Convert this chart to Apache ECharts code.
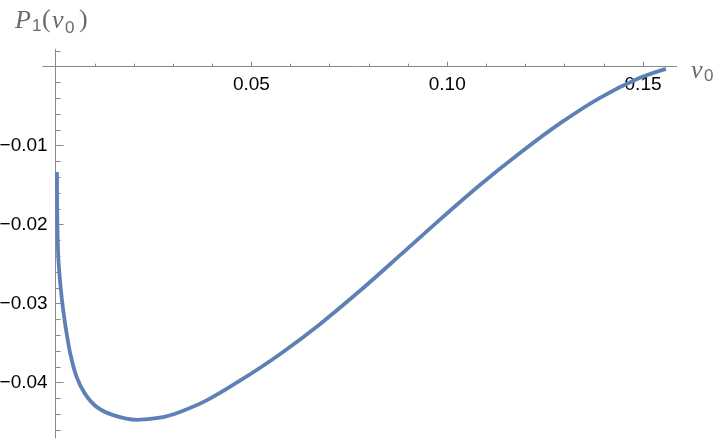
<!DOCTYPE html>
<html>
<head>
<meta charset="utf-8">
<script src="https://cdn.jsdelivr.net/npm/echarts@6/dist/echarts.min.js"></script>
<style>
html,body{margin:0;padding:0;background:#fff;}
#chart{width:720px;height:442px;}
</style>
</head>
<body>
<div id="chart"></div>
<script>
// ---- data ----
const vValues = [0.00033, 0.00041, 0.00054, 0.00072, 0.00135, 0.00194, 0.00281, 0.00383, 0.00536, 0.00747,
  0.01047, 0.01471, 0.02068, 0.02663, 0.03174, 0.03856, 0.04706, 0.05728, 0.06749, 0.07771,
  0.08792, 0.09814, 0.10835, 0.11857, 0.12878, 0.13899, 0.14921, 0.15585];
const pValues = [-0.01332, -0.01880, -0.02196, -0.02449, -0.02829, -0.03082, -0.03377, -0.03652, -0.03927, -0.04139,
  -0.04306, -0.04411, -0.04470, -0.04443, -0.04370, -0.04224, -0.03975, -0.03639, -0.03259, -0.02837,
  -0.02389, -0.01935, -0.01497, -0.01092, -0.00718, -0.00394, -0.00141, -0.00027];
const xMajorTicks = [0.05, 0.10, 0.15];
const xMinorTicks = [0.01, 0.02, 0.03, 0.04, 0.06, 0.07, 0.08, 0.09, 0.11, 0.12, 0.13, 0.14];
const yMajorTicks = [-0.04, -0.03, -0.02, -0.01];
const yMinorTicks = [-0.046, -0.044, -0.042, -0.038, -0.036, -0.034, -0.032, -0.028, -0.026, -0.024, -0.022,
  -0.018, -0.016, -0.014, -0.012, -0.008, -0.006, -0.004, -0.002, 0.002];
const xRange = [-0.0033, 0.1586];
const yRange = [-0.047, 0.0022];

const axisColor = '#8a8a8a';
const labelFont = 'Liberation Sans, Arial, sans-serif';
const nameColor = '#6a6a6a';

const gridBox = {left: 42.7, right: 43.3, top: 49.3, bottom: 4};
const plotW = 720 - gridBox.left - gridBox.right;
const plotH = 442 - gridBox.top - gridBox.bottom;
// axes cross at zero: shift each axis from the grid edge to the other axis' zero
const xAxisOffset = -plotH * (0 - yRange[0]) / (yRange[1] - yRange[0]);
const yAxisOffset = -plotW * (0 - xRange[0]) / (xRange[1] - xRange[0]);

const chart = echarts.init(document.getElementById('chart'), null, {renderer: 'canvas'});

const lineData = vValues.map((v, i) => [v, pValues[i]]);

function xAxisBase(extra) {
  return Object.assign({
    type: 'value', min: xRange[0], max: xRange[1], position: 'bottom', offset: xAxisOffset,
    splitLine: {show: false}
  }, extra);
}
function yAxisBase(extra) {
  return Object.assign({
    type: 'value', min: yRange[0], max: yRange[1], position: 'left', offset: yAxisOffset,
    splitLine: {show: false}
  }, extra);
}

const option = {
  animation: false,
  backgroundColor: '#ffffff',
  grid: Object.assign({containLabel: false, outerBoundsMode: 'none'}, gridBox),
  xAxis: [
    xAxisBase({
      axisLine: {show: true, onZero: false, lineStyle: {color: axisColor, width: 1}},
      axisTick: {show: true, inside: true, length: 5, customValues: xMajorTicks, lineStyle: {color: axisColor}},
      axisLabel: {show: true, customValues: xMajorTicks, margin: 9, color: '#000', fontFamily: labelFont, fontSize: 19,
        formatter: v => v.toFixed(2)}
    }),
    xAxisBase({
      axisLine: {show: false, onZero: false},
      axisTick: {show: true, inside: true, length: 3, customValues: xMinorTicks, lineStyle: {color: axisColor}},
      axisLabel: {show: false}
    })
  ],
  yAxis: [
    yAxisBase({
      axisLine: {show: true, onZero: false, lineStyle: {color: axisColor, width: 1}},
      axisTick: {show: true, inside: true, length: 8, customValues: yMajorTicks, lineStyle: {color: axisColor}},
      axisLabel: {show: true, customValues: yMajorTicks, margin: 8, color: '#000', fontFamily: labelFont, fontSize: 19,
        formatter: v => v.toFixed(2).replace('-', '\u2212')}
    }),
    yAxisBase({
      axisLine: {show: false, onZero: false},
      axisTick: {show: true, inside: true, length: 5, customValues: yMinorTicks, lineStyle: {color: axisColor}},
      axisLabel: {show: false}
    })
  ],
  graphic: [
    // y-axis name: P_1(v_0)
    {type: 'text', left: 15, top: 8, style: {text: 'P', font: 'italic 26px "Liberation Serif", serif', fill: nameColor}},
    {type: 'text', left: 32, top: 18, style: {text: '1', font: '17px "Liberation Sans", sans-serif', fill: nameColor}},
    {type: 'text', left: 42, top: 7, style: {text: '(', font: '26px "Liberation Serif", serif', fill: nameColor}},
    {type: 'text', left: 52, top: 8, style: {text: 'v', font: 'italic 26px "Liberation Serif", serif', fill: nameColor}},
    {type: 'text', left: 65, top: 20, style: {text: '0', font: '17px "Liberation Sans", sans-serif', fill: nameColor}},
    {type: 'text', left: 79, top: 7, style: {text: ')', font: '26px "Liberation Serif", serif', fill: nameColor}},
    // x-axis name: v_0
    {type: 'text', left: 691, top: 58, style: {text: 'v', font: 'italic 26px "Liberation Serif", serif', fill: nameColor}},
    {type: 'text', left: 704, top: 68, style: {text: '0', font: '17px "Liberation Sans", sans-serif', fill: nameColor}}
  ],
  series: [{
    type: 'line',
    xAxisIndex: 0, yAxisIndex: 0,
    data: lineData,
    showSymbol: false,
    smooth: 0.3,
    lineStyle: {color: '#5E81B5', width: 3.8},
    clip: false
  }]
};
chart.setOption(option);
</script>
</body>
</html>
